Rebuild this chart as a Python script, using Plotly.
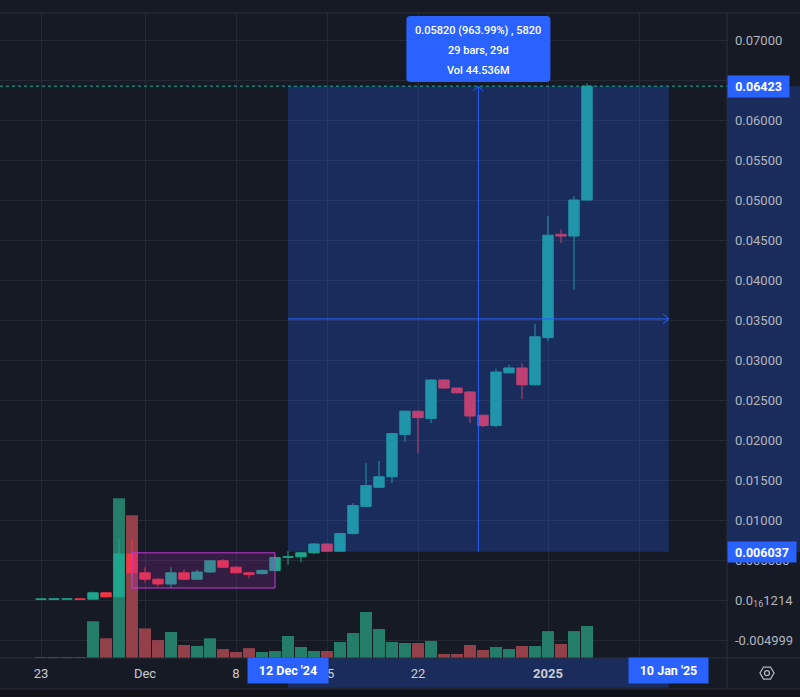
import plotly.graph_objects as go
import pandas as pd

# ---------------- data ----------------
dates = ["2024-11-23", "2024-11-24", "2024-11-25", "2024-11-26", "2024-11-27", "2024-11-28",
         "2024-11-29", "2024-11-30", "2024-12-01", "2024-12-02", "2024-12-03", "2024-12-04",
         "2024-12-05", "2024-12-06", "2024-12-07", "2024-12-08", "2024-12-09", "2024-12-10",
         "2024-12-11", "2024-12-12", "2024-12-13", "2024-12-14", "2024-12-15", "2024-12-16",
         "2024-12-17", "2024-12-18", "2024-12-19", "2024-12-20", "2024-12-21", "2024-12-22",
         "2024-12-23", "2024-12-24", "2024-12-25", "2024-12-26", "2024-12-27", "2024-12-28",
         "2024-12-29", "2024-12-30", "2024-12-31", "2025-01-01", "2025-01-02", "2025-01-03",
         "2025-01-04"]
opens = [0.00010, 0.00011, 0.00012, 0.00013, 0.00010, 0.00090, 0.00040, 0.00575, 0.00340,
         0.00260, 0.00200, 0.00340, 0.00260, 0.00350, 0.00490, 0.00410, 0.00340, 0.00330,
         0.00370, 0.00535, 0.00540, 0.00590, 0.00700, 0.00610, 0.00830, 0.01170, 0.01410,
         0.01540, 0.02070, 0.02360, 0.02270, 0.02750, 0.02650, 0.02600, 0.02310, 0.02180,
         0.02840, 0.02900, 0.02690, 0.03280, 0.04570, 0.04550, 0.05000]
highs = [0.00011, 0.00012, 0.00013, 0.00013, 0.00105, 0.00100, 0.00770, 0.00750, 0.00410,
         0.00270, 0.00410, 0.00380, 0.00380, 0.00500, 0.00510, 0.00420, 0.00350, 0.00380,
         0.00550, 0.00610, 0.00600, 0.00710, 0.00705, 0.00830, 0.01210, 0.01710, 0.01740,
         0.02090, 0.02370, 0.02370, 0.02760, 0.02760, 0.02650, 0.02610, 0.02320, 0.02890,
         0.02940, 0.02960, 0.03450, 0.04800, 0.04630, 0.05050, 0.06460]
lows = [0.00010, 0.00011, 0.00012, 0.00010, 0.00008, 0.00030, 0.00030, 0.00300, 0.00220,
        0.00170, 0.00150, 0.00250, 0.00250, 0.00340, 0.00400, 0.00330, 0.00270, 0.00320,
        0.00360, 0.00440, 0.00470, 0.00580, 0.00600, 0.00600, 0.00820, 0.01160, 0.01400,
        0.01460, 0.01980, 0.01840, 0.02210, 0.02640, 0.02580, 0.02210, 0.02160, 0.02160,
        0.02830, 0.02510, 0.02680, 0.03240, 0.04460, 0.03880, 0.04990]
closes = [0.00011, 0.00012, 0.00013, 0.00010, 0.00090, 0.00040, 0.00575, 0.00340, 0.00260,
          0.00200, 0.00340, 0.00260, 0.00350, 0.00490, 0.00410, 0.00340, 0.00320, 0.00370,
          0.00530, 0.00540, 0.00590, 0.00700, 0.00610, 0.00830, 0.01180, 0.01430, 0.01540,
          0.02080, 0.02360, 0.02280, 0.02750, 0.02650, 0.02590, 0.02300, 0.02180, 0.02850,
          0.02900, 0.02690, 0.03290, 0.04560, 0.04550, 0.05000, 0.06423]
volumes_m = [0.1, 0.1, 0.1, 0.1, 4.1, 2.2, 17.8, 15.9, 3.3, 2.0, 2.9, 1.45, 1.35, 2.2, 1.0,
             0.67, 1.1, 0.67, 0.78, 2.45, 1.23, 0.78, 0.78, 1.78, 2.79, 5.13, 3.23, 1.78,
             1.67, 1.67, 1.9, 0.45, 0.45, 1.45, 0.9, 1.23, 1.0, 1.34, 1.34, 3.0, 1.56, 3.0,
             3.57]

x_tick_vals = ["2024-11-23", "2024-12-01", "2024-12-08", "2024-12-15", "2024-12-22",
               "2025-01-01", "2025-01-08"]
x_tick_text = ["23", "Dec", "8", "15", "22", "<b>2025</b>", "8"]

price_tick_vals = [-0.005, 0.0, 0.005, 0.01, 0.015, 0.02, 0.025, 0.03, 0.035, 0.04, 0.045,
                   0.05, 0.055, 0.06, 0.065, 0.07]
price_tick_text = ["-0.004999", "0.0<sub>16</sub>1214", "0.005000", "0.01000", "0.01500",
                   "0.02000", "0.02500", "0.03000", "0.03500", "0.04000", "0.04500",
                   "0.05000", "0.05500", "0.06000", "0.06500", "0.07000"]

# measurement tool
meas_x0 = "2024-12-12"
meas_x1 = "2025-01-10 07:00"
meas_lo = 0.006037
meas_hi = 0.06423
meas_lines = ["0.05820 (963.99%) , 5820", "29 bars, 29d", "Vol 44.536M"]
meas_left_label = "12 Dec '24"
meas_right_label = "10 Jan '25"

# consolidation rectangle
rect_x0, rect_x1 = "2024-11-30", "2024-12-11"
rect_lo, rect_hi = 0.0015, 0.0059

last_price = 0.06423

# ---------------- styling ----------------
BG = "#161a25"
GRID = "#252934"
UP = "#1ea58c"
DOWN = "#f23645"
VOL_UP = "#237d69"
VOL_DOWN = "#94404b"
BLUE = "#2962ff"
TXT = "#b2b5be"
FONT = "Roboto"

vol_colors = [VOL_UP if c >= o else VOL_DOWN for o, c in zip(opens, closes)]

fig = go.Figure()
fig.add_trace(go.Bar(x=dates, y=volumes_m, marker=dict(color=vol_colors, line=dict(width=0)),
                     yaxis="y", hoverinfo="skip"))
fig.add_trace(go.Candlestick(
    x=dates, open=opens, high=highs, low=lows, close=closes, yaxis="y2",
    increasing=dict(line=dict(color=UP, width=1), fillcolor=UP),
    decreasing=dict(line=dict(color=DOWN, width=1), fillcolor=DOWN),
    whiskerwidth=0, hoverinfo="skip"))

# axis ranges (plot area: 727 x 645 px)
x_range = ["2024-11-19 20:18", "2025-01-14 18:28"]
y_range = [-0.00725, 0.073375]
vol_range = [0, 71.9]

mid_x = pd.Timestamp(meas_x0) + (pd.Timestamp(meas_x1) - pd.Timestamp(meas_x0)) / 2
mid_x = mid_x.strftime("%Y-%m-%d %H:%M")
mid_y = (meas_lo + meas_hi) / 2

shapes = []
# price axis band & time axis band (measurement highlight)
shapes.append(dict(type="rect", xref="paper", yref="y2", x0=1, x1=1.11, y0=meas_lo, y1=meas_hi,
                   fillcolor="rgba(41,98,255,0.25)", line=dict(width=0), layer="below"))
shapes.append(dict(type="rect", xref="x", yref="paper", x0=meas_x0, x1=meas_x1, y0=-0.046, y1=0,
                   fillcolor="rgba(41,98,255,0.25)", line=dict(width=0), layer="below"))
# borders
shapes.append(dict(type="line", xref="paper", yref="paper", x0=0, x1=1.11, y0=1, y1=1,
                   line=dict(color="#2a2e39", width=1)))
shapes.append(dict(type="line", xref="paper", yref="paper", x0=0, x1=1.11, y0=0, y1=0,
                   line=dict(color="#2a2e39", width=1)))
shapes.append(dict(type="line", xref="paper", yref="paper", x0=0, x1=1.11, y0=-0.048, y1=-0.048,
                   line=dict(color="#2a2e39", width=1)))
shapes.append(dict(type="rect", xref="paper", yref="paper", x0=0, x1=1.11, y0=-0.06, y1=-0.049,
                   fillcolor="#0f1118", line=dict(width=0), layer="below"))
shapes.append(dict(type="line", xref="paper", yref="paper", x0=1, x1=1, y0=-0.048, y1=1,
                   line=dict(color="#2a2e39", width=1)))
# consolidation rectangle
shapes.append(dict(type="rect", xref="x", yref="y2", x0=rect_x0, x1=rect_x1, y0=rect_lo, y1=rect_hi,
                   fillcolor="rgba(156,39,176,0.22)", line=dict(color="#c03ad8", width=1),
                   layer="above"))
# measurement box
shapes.append(dict(type="rect", xref="x", yref="y2", x0=meas_x0, x1=meas_x1, y0=meas_lo, y1=meas_hi,
                   fillcolor="rgba(41,98,255,0.25)", line=dict(width=0), layer="above"))
# last price dotted line
shapes.append(dict(type="line", xref="paper", yref="y2", x0=0, x1=1, y0=last_price, y1=last_price,
                   line=dict(color="#22ab94", width=1, dash="dot"), layer="above"))
# crosshair lines
shapes.append(dict(type="line", xref="x", yref="y2", x0=mid_x, x1=mid_x, y0=meas_lo, y1=meas_hi,
                   line=dict(color=BLUE, width=1), layer="above"))
shapes.append(dict(type="line", xref="x", yref="y2", x0=meas_x0, x1=meas_x1, y0=mid_y, y1=mid_y,
                   line=dict(color=BLUE, width=1), layer="above"))
# arrow heads
shapes.append(dict(type="path", xref="x", yref="y2", xsizemode="pixel", ysizemode="pixel",
                   xanchor=mid_x, yanchor=meas_hi, path="M-5,-5 L0,0 L5,-5",
                   line=dict(color=BLUE, width=1), layer="above"))
shapes.append(dict(type="path", xref="x", yref="y2", xsizemode="pixel", ysizemode="pixel",
                   xanchor=meas_x1, yanchor=mid_y, path="M-6,5 L0,0 L-6,-5",
                   line=dict(color=BLUE, width=1), layer="above"))
# tooltip background
shapes.append(dict(type="path", xref="x", yref="paper", xsizemode="pixel", ysizemode="pixel",
                   xanchor=mid_x, yanchor=0.944,
                   path="M-68,33 L68,33 Q72,33 72,29 L72,-29 Q72,-33 68,-33 L-68,-33 "
                        "Q-72,-33 -72,-29 L-72,29 Q-72,33 -68,33 Z",
                   fillcolor=BLUE, line=dict(width=0), layer="above"))
# settings icon (hexagon + circle)
shapes.append(dict(type="path", xref="paper", yref="paper", xsizemode="pixel", ysizemode="pixel",
                   xanchor=1.055, yanchor=-0.0233,
                   path="M-7,0 L-3.5,6 L3.5,6 L7,0 L3.5,-6 L-3.5,-6 Z",
                   line=dict(color="#b2b5be", width=1.3)))
shapes.append(dict(type="circle", xref="paper", yref="paper", xsizemode="pixel", ysizemode="pixel",
                   xanchor=1.055, yanchor=-0.0233, x0=-2.5, x1=2.5, y0=-2.5, y1=2.5,
                   line=dict(color="#b2b5be", width=1.3)))

annotations = []
for i, (t, py) in enumerate(zip(meas_lines, [0.9736, 0.9426, 0.9116])):
    annotations.append(dict(xref="x", yref="paper", x=mid_x, y=py, text=t, showarrow=False,
                            font=dict(family=FONT, size=11, color="white", weight=500),
                            xanchor="center", yanchor="middle"))
annotations.append(dict(xref="x", yref="paper", x=meas_x0, y=-0.0195, text="<b>%s</b>" % meas_left_label,
                        showarrow=False, bgcolor=BLUE, width=70, height=15, borderpad=5,
                        font=dict(family=FONT, size=12.5, color="white"),
                        xanchor="center", yanchor="middle"))
annotations.append(dict(xref="x", yref="paper", x=meas_x1, y=-0.0195, text="<b>%s</b>" % meas_right_label,
                        showarrow=False, bgcolor=BLUE, width=69, height=15, borderpad=5,
                        font=dict(family=FONT, size=12.5, color="white"),
                        xanchor="center", yanchor="middle"))
annotations.append(dict(xref="paper", yref="y2", x=1, y=meas_hi, text="<b>%.5f</b>" % meas_hi,
                        showarrow=False, bgcolor=BLUE, width=53, height=13, borderpad=4,
                        font=dict(family=FONT, size=12.5, color="white"),
                        xanchor="left", yanchor="middle"))
annotations.append(dict(xref="paper", yref="y2", x=1, y=meas_lo, text="<b>%.6f</b>" % meas_lo,
                        showarrow=False, bgcolor=BLUE, width=60, height=12, borderpad=4,
                        font=dict(family=FONT, size=12.5, color="white"),
                        xanchor="left", yanchor="middle"))

fig.update_layout(
    width=800, height=697,
    margin=dict(l=0, r=73, t=13, b=39),
    paper_bgcolor=BG, plot_bgcolor=BG,
    showlegend=False,
    bargap=0.08,
    boxgap=0.2, boxgroupgap=0,
    font=dict(family=FONT, color=TXT, size=13),
    xaxis=dict(type="date", range=x_range, tickvals=x_tick_vals, ticktext=x_tick_text,
               showgrid=True, gridcolor=GRID, gridwidth=1, zeroline=False, showline=False,
               ticks="", ticklabelstandoff=6, tickfont=dict(family=FONT, size=13, color="#c9ccd4"),
               rangeslider=dict(visible=False), fixedrange=True),
    yaxis=dict(range=vol_range, visible=False, showgrid=False, zeroline=False, fixedrange=True),
    yaxis2=dict(overlaying="y", side="right", range=y_range, tickvals=price_tick_vals,
                ticktext=price_tick_text, showgrid=True, gridcolor=GRID, gridwidth=1,
                zeroline=False, showline=False, ticks="", ticklabelstandoff=7,
                tickfont=dict(family=FONT, size=13, color=TXT), fixedrange=True),
    shapes=shapes,
    annotations=annotations,
)

fig.write_html("out.html")
